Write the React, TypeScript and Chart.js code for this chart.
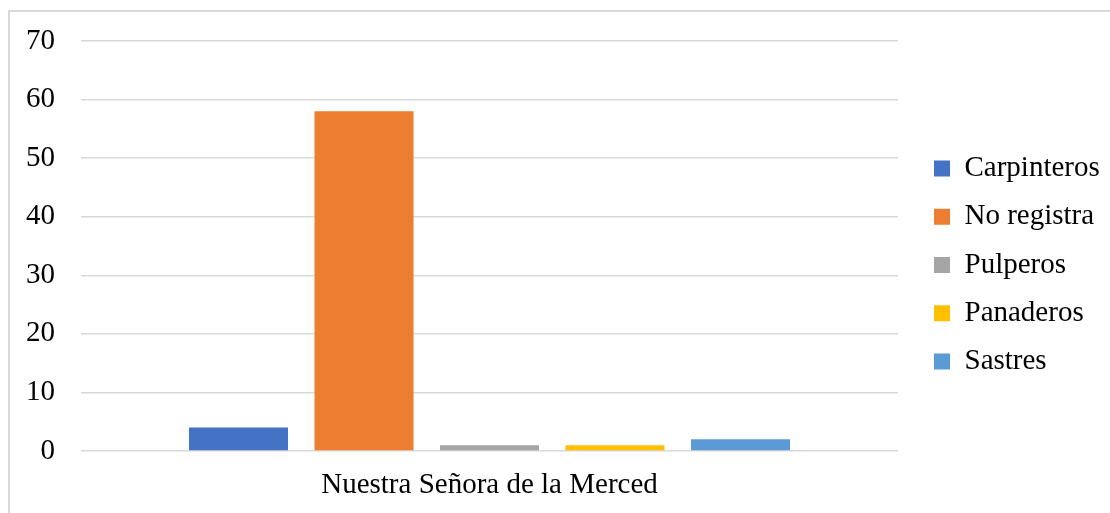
import React, { useEffect, useRef } from "react";
import { Chart, registerables } from "chart.js";

Chart.register(...registerables);

const categories = ["Nuestra Señora de la Merced"];
const seriesNames = ["Carpinteros", "No registra", "Pulperos", "Panaderos", "Sastres"];
const carpinteros = [4];
const noRegistra = [58];
const pulperos = [1];
const panaderos = [1];
const sastres = [2];
const yTicks = [0, 10, 20, 30, 40, 50, 60, 70];
const seriesColors = ["#4472C4", "#ED7D31", "#A5A5A5", "#FFC000", "#5B9BD5"];

const FONT_FAMILY = "'Liberation Serif', 'Times New Roman', serif";

const legendShift = {
  id: "legendShift",
  afterLayout(chart: any) {
    const lg = chart.legend;
    if (!lg) return;
    const dx = 16.75;
    const dy = 19;
    const extraWidth = 40;
    lg.left += dx;
    lg.right += dx + extraWidth;
    lg.width = lg.right - lg.left;
    lg.top += dy;
    lg.bottom += dy;
  },
};

export default function App() {
  const canvasRef = useRef<HTMLCanvasElement | null>(null);

  useEffect(() => {
    const canvas = canvasRef.current;
    if (!canvas) return;
    const seriesValues = [carpinteros, noRegistra, pulperos, panaderos, sastres];
    const font = { family: FONT_FAMILY, size: 29 };
    const chart = new Chart(canvas, {
      type: "bar",
      data: {
        labels: categories,
        datasets: seriesNames.map((name, i) => ({
          label: name,
          data: seriesValues[i],
          backgroundColor: seriesColors[i],
          borderWidth: 0,
          categoryPercentage: 0.768,
          barPercentage: 0.789,
        })),
      },
      options: {
        responsive: false,
        animation: false,
        devicePixelRatio: 1,
        layout: { padding: { top: 29, right: 32, left: 0, bottom: 0 } },
        plugins: {
          tooltip: { enabled: false },
          title: { display: false },
          legend: {
            display: true,
            position: "right",
            fullSize: false,
            maxWidth: 180,
            labels: {
              font,
              color: "#000000",
              boxWidth: 16,
              boxHeight: 16,
              padding: 19.25,
            },
          },
        },
        scales: {
          x: {
            grid: { display: false, drawTicks: false },
            border: { display: false },
            ticks: { font, color: "#000000", padding: 17 },
            afterFit: (s: any) => {
              s.height = 62;
            },
          },
          y: {
            min: 0,
            max: 70,
            grid: { color: "#d9d9d9", lineWidth: 1.5, drawTicks: false },
            border: { display: false },
            ticks: { font, color: "#000000", padding: 26, stepSize: 10 },
            afterBuildTicks: (s: any) => {
              s.ticks = yTicks.map((v) => ({ value: v }));
            },
            afterFit: (s: any) => {
              s.width = 71;
              s.paddingTop = 0;
              s.paddingBottom = 0;
            },
          },
        },
      },
      plugins: [legendShift],
    });
    return () => chart.destroy();
  }, []);

  return (
    <div
      style={{
        position: "absolute",
        left: 8,
        top: 10,
        width: 1102,
        height: 503,
        boxSizing: "border-box",
        borderLeft: "2px solid #d9d9d9",
        borderTop: "2px solid #d9d9d9",
        background: "#ffffff",
        overflow: "hidden",
      }}
    >
      <canvas ref={canvasRef} width={1100} height={501} style={{ display: "block" }} />
    </div>
  );
}
